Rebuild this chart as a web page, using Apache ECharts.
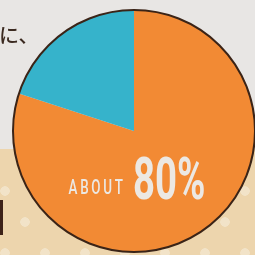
<!DOCTYPE html>
<html>
<head>
<meta charset="utf-8">
<script src="https://cdn.jsdelivr.net/npm/echarts@6/dist/echarts.min.js"></script>
<style>
  html, body { margin: 0; padding: 0; }
  body { width: 255px; height: 255px; background: #e8e6e4; position: relative; overflow: hidden; }
  .floor {
    position: absolute; left: 0; top: 149px; width: 255px; height: 106px;
    background-color: #edd5ad;
    background-image:
      radial-gradient(circle at 25px 11px, #f2e3c8 4.5px, transparent 5px),
      radial-gradient(circle at 5px 42px, #f2e3c8 4.5px, transparent 5px);
    background-size: 40px 62px;
  }
  #main { position: absolute; left: 0; top: 0; width: 255px; height: 255px; }
</style>
</head>
<body>
<div class="floor"></div>
<div id="main"></div>
<script>
const names = ['あり', 'なし']
const values = [80, 20]
const colors = ['#f28a34', '#36b3cb']
const headText = 'に、'

const chart = echarts.init(document.getElementById('main'))
const total = values.reduce((a, b) => a + b, 0)
// thin spaces to mimic the tracked-out lettering
const aboutText = 'ABOUT'.split('').join('\u2009')

chart.setOption({
    animation: false,
    series: [
        {
            type: 'pie',
            center: [134, 131],
            radius: 121,
            startAngle: 90,
            silent: true,
            label: { show: false },
            labelLine: { show: false },
            itemStyle: { borderWidth: 0 },
            data: names.map((n, i) => ({ name: n, value: values[i], itemStyle: { color: colors[i] } }))
        },
        {
            // outline only round the edge
            type: 'pie',
            center: [134, 131],
            radius: 121,
            silent: true,
            label: { show: false },
            labelLine: { show: false },
            itemStyle: { color: 'rgba(0,0,0,0)', borderColor: '#3b2417', borderWidth: 2 },
            data: [{ name: 'all', value: total }]
        }
    ],
    graphic: [
        {
            type: 'text', x: -1, y: 35, z: 100,
            style: { text: headText, font: '500 20px "Noto Sans CJK JP"', fill: '#3b2a20', textVerticalAlign: 'middle' }
        },
        {
            type: 'rect', shape: { x: 0, y: 200, width: 3, height: 35 }, z: 100,
            style: { fill: '#3d2218' }
        },
        {
            type: 'text', x: 123, y: 199, scaleX: 0.67, z: 100,
            style: { text: aboutText, font: '500 20px Roboto', fill: '#ece8e3', textAlign: 'right', textVerticalAlign: 'bottom' }
        },
        {
            type: 'text', x: 133, y: 214, scaleX: 0.64, z: 100,
            style: { text: values[0] + '%', font: 'bold 60px Roboto', fill: '#ece8e3', textAlign: 'left', textVerticalAlign: 'bottom' }
        }
    ]
})
</script>
</body>
</html>
